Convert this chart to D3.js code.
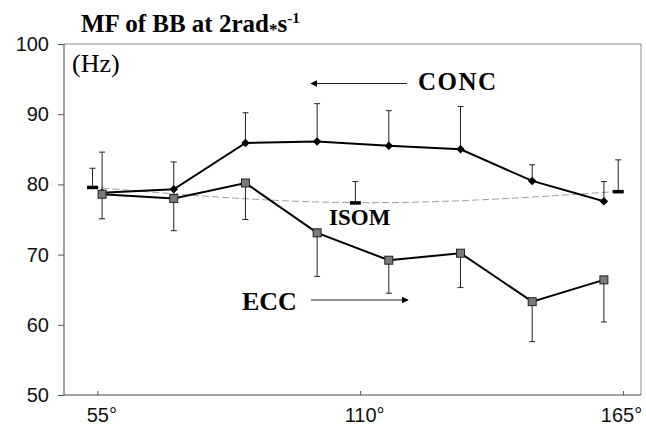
<!DOCTYPE html>
<html>
<head>
<meta charset="utf-8">
<script src="https://cdn.jsdelivr.net/npm/d3@7"></script>
<style>
  body { margin: 0; background: #fff; }
  svg { display: block; }
  .tick text { font-family: "Liberation Sans", Arial, sans-serif; fill: #111; }
  .lbl { font-family: "Liberation Serif", "Times New Roman", serif; fill: #000; }
</style>
</head>
<body>
<div id="chart"></div>
<script>
// angles of the measured points (deg)
var angles     = [56, 71, 86, 101, 116, 131, 146, 161];
// concentric: mean and upward SD
var concMean   = [78.8, 79.3, 85.9, 86.1, 85.5, 85.0, 80.5, 77.6];
var concSD     = [5.8, 3.9, 4.3, 5.4, 5.0, 6.1, 2.3, 2.8];
// eccentric: mean and downward SD
var eccMean    = [78.6, 78.0, 80.2, 73.1, 69.2, 70.2, 63.3, 66.4];
var eccSD      = [3.5, 4.6, 5.2, 6.2, 4.7, 4.9, 5.7, 6.0];
// isometric
var isomAngles = [54, 109, 164];
var isomMean   = [79.6, 77.4, 79.0];
var isomSD     = [2.7, 3.0, 4.5];
// axes
var yTicks     = [50, 60, 70, 80, 90, 100];
var xTicks     = [55, 110, 165];

var W = 646, H = 427
   ,plot = {left: 64, right: 641, top: 44, bottom: 395};

var svg = d3.select('#chart').append('svg')
            .attr('width', W)
            .attr('height', H);

var x = d3.scaleLinear().domain([55, 165]).range([97.3, 623])
   ,y = d3.scaleLinear().domain([50, 100]).range([plot.bottom, plot.top]);

// frame
svg.append('path')
   .attr('d', 'M' + plot.left + ',' + plot.top + 'H' + plot.right + 'V' + plot.bottom)
   .attr('fill', 'none').attr('stroke', '#8a8a8a').attr('stroke-width', 1);
svg.append('path')
   .attr('d', 'M' + plot.left + ',' + plot.top + 'V' + plot.bottom + 'H' + plot.right)
   .attr('fill', 'none').attr('stroke', '#444').attr('stroke-width', 1);

// y axis
var gy = svg.append('g')
    .attr('transform', 'translate(' + plot.left + ',0)')
    .call(d3.axisLeft(y).tickValues(yTicks).tickSize(6).tickSizeOuter(0).tickPadding(9));
gy.select('.domain').remove();
gy.selectAll('.tick line').attr('stroke', '#555');
gy.selectAll('.tick text').style('font-size', '20px');

// x axis
var gx = svg.append('g')
    .attr('transform', 'translate(0,' + plot.bottom + ')')
    .call(d3.axisBottom(x).tickValues(xTicks).tickSize(-4).tickSizeOuter(0).tickPadding(13)
            .tickFormat(function(d){ return d + '\u00b0'; }));
gx.select('.domain').remove();
gx.selectAll('.tick line').attr('stroke', '#555');
gx.selectAll('.tick text').style('font-size', '20px')
  .attr('dx', function(d){ return d === 165 ? -2 : 4; });

// isometric dashed trend
svg.append('path')
   .datum(d3.zip(isomAngles, isomMean))
   .attr('d', d3.line().x(function(d){ return x(d[0]); }).y(function(d){ return y(d[1]); })
                .curve(d3.curveNatural))
   .attr('fill', 'none').attr('stroke', '#a0a0a0').attr('stroke-width', 1)
   .attr('stroke-dasharray', '7,3');

// error bars: dir +1 goes up, -1 goes down
function errbars(g, xs, means, sds, dir){
    xs.forEach(function(a, i){
        var cx = x(a), y0 = y(means[i]), y1 = y(means[i] + dir * sds[i]);
        g.append('line').attr('x1', cx).attr('x2', cx).attr('y1', y0).attr('y2', y1)
         .attr('stroke', '#222').attr('stroke-width', 1);
        g.append('line').attr('x1', cx - 3).attr('x2', cx + 3).attr('y1', y1).attr('y2', y1)
         .attr('stroke', '#222').attr('stroke-width', 1);
    });
}

var bars = svg.append('g').attr('class', 'errbars');
errbars(bars, angles, concMean, concSD, 1);
errbars(bars, angles, eccMean, eccSD, -1);
errbars(bars, isomAngles, isomMean, isomSD, 1);

var line = d3.line().x(function(d){ return x(d[0]); }).y(function(d){ return y(d[1]); });

// conc line + diamonds
svg.append('path').datum(d3.zip(angles, concMean))
   .attr('d', line).attr('fill', 'none').attr('stroke', '#000').attr('stroke-width', 2);
svg.append('g').selectAll('path.dia')
   .data(d3.zip(angles, concMean)).enter().append('path').classed('dia', true)
   .attr('transform', function(d){ return 'translate(' + x(d[0]) + ',' + y(d[1]) + ') rotate(45)'; })
   .attr('d', 'M-3,-3H3V3H-3Z')
   .attr('fill', '#000');

// ecc line + squares
svg.append('path').datum(d3.zip(angles, eccMean))
   .attr('d', line).attr('fill', 'none').attr('stroke', '#000').attr('stroke-width', 2);
svg.append('g').selectAll('rect.sq')
   .data(d3.zip(angles, eccMean)).enter().append('rect').classed('sq', true)
   .attr('x', function(d){ return x(d[0]) - 4; })
   .attr('y', function(d){ return y(d[1]) - 4; })
   .attr('width', 8).attr('height', 8)
   .attr('fill', '#7a7a7a').attr('stroke', '#222').attr('stroke-width', 1);

// isom markers
svg.append('g').selectAll('rect.iso')
   .data(d3.zip(isomAngles, isomMean)).enter().append('rect').classed('iso', true)
   .attr('x', function(d){ return x(d[0]) - 5.5; })
   .attr('y', function(d){ return y(d[1]) - 1.5; })
   .attr('width', 11).attr('height', 3.5)
   .attr('fill', '#000');

// title
var title = svg.append('text').attr('class', 'lbl')
   .attr('x', 81).attr('y', 32)
   .style('font-size', '25px').style('font-weight', 'bold');
title.append('tspan').text('MF of BB at 2rad');
title.append('tspan').attr('dy', 3).style('font-size', '17px').text('*');
title.append('tspan').attr('dy', -3).text('s');
title.append('tspan').attr('dy', -9).style('font-size', '15px').text('-1');

svg.append('text').attr('class', 'lbl')
   .attr('x', 72).attr('y', 72)
   .style('font-size', '26px')
   .text('(Hz)');

// series labels
svg.append('text').attr('class', 'lbl')
   .attr('x', 418).attr('y', 90)
   .style('font-size', '25px').style('font-weight', 'bold').style('letter-spacing', '1.5px')
   .text('CONC');
svg.append('text').attr('class', 'lbl')
   .attr('x', 242).attr('y', 310)
   .style('font-size', '26px').style('font-weight', 'bold')
   .text('ECC');
svg.append('text').attr('class', 'lbl')
   .attr('x', 329).attr('y', 225)
   .style('font-size', '23px').style('font-weight', 'bold')
   .text('ISOM');

// arrows
var defs = svg.append('defs');
defs.append('marker').attr('id', 'ah')
    .attr('viewBox', '0 0 10 10').attr('refX', 9).attr('refY', 5)
    .attr('markerWidth', 7).attr('markerHeight', 7).attr('markerUnits', 'userSpaceOnUse')
    .attr('orient', 'auto')
  .append('path').attr('d', 'M0,0L10,5L0,10Z').attr('fill', '#000');

svg.append('line').attr('x1', 407).attr('y1', 83.5).attr('x2', 311).attr('y2', 83.5)
   .attr('stroke', '#222').attr('stroke-width', 1.2).attr('marker-end', 'url(#ah)');
svg.append('line').attr('x1', 311).attr('y1', 300).attr('x2', 408).attr('y2', 300)
   .attr('stroke', '#222').attr('stroke-width', 1.2).attr('marker-end', 'url(#ah)');
</script>
</body>
</html>
